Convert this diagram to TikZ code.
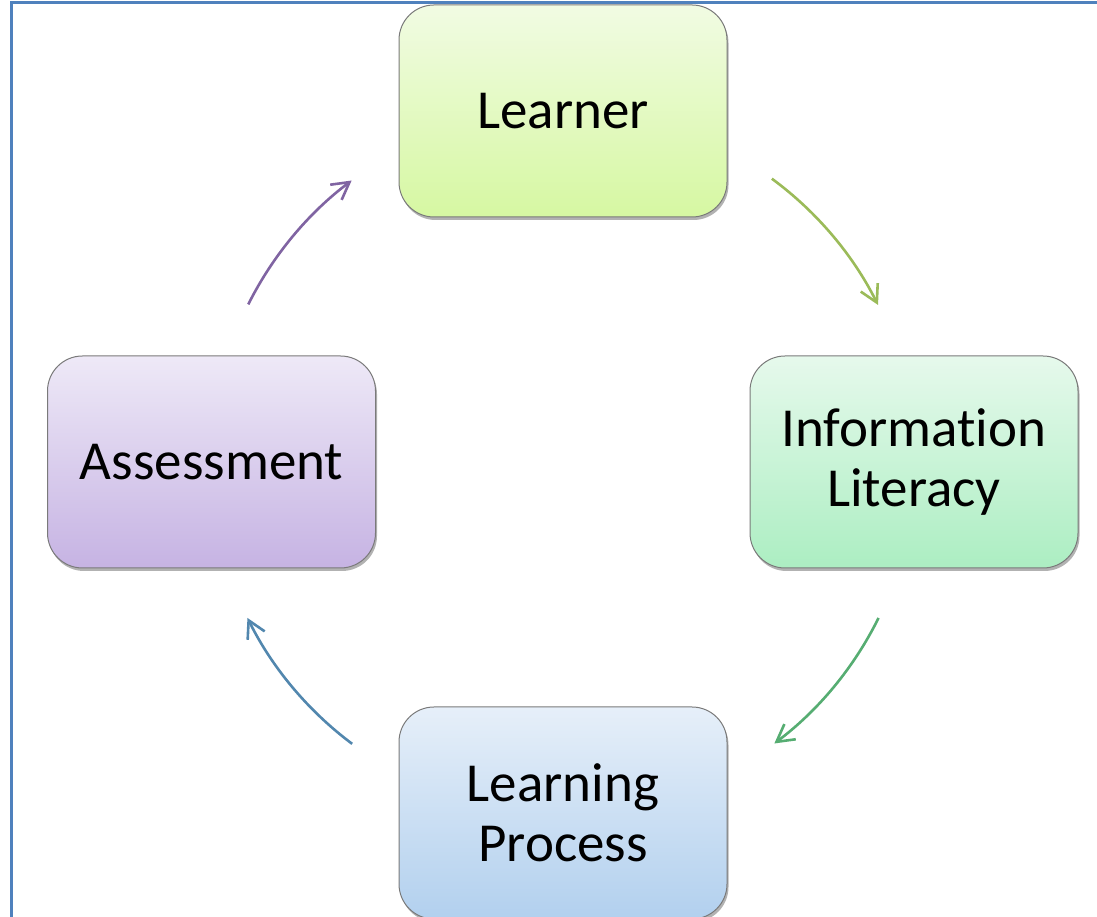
\documentclass[tikz,border=0pt]{standalone}
\usepackage{fontspec}
\setmainfont{Carlito}[Ligatures=NoCommon]
\usetikzlibrary{arrows.meta,shadows,calc}
\definecolor{framecol}{HTML}{4F81BD}
\definecolor{boxgray}{HTML}{7A7A7A}
\definecolor{lrnTop}{HTML}{F1FBE3}
\definecolor{lrnBot}{HTML}{D6F8A2}
\definecolor{infTop}{HTML}{E6F9EC}
\definecolor{infBot}{HTML}{ACEEC2}
\definecolor{assTop}{HTML}{EEE9F7}
\definecolor{assBot}{HTML}{C6B3E3}
\definecolor{proTop}{HTML}{E6EFF9}
\definecolor{proBot}{HTML}{B2D0EE}
\definecolor{arrPurple}{HTML}{8064A2}
\definecolor{arrLime}{HTML}{9BBB59}
\definecolor{arrGreen}{HTML}{56AD72}
\definecolor{arrBlue}{HTML}{5287AE}
\begin{document}
\begin{tikzpicture}[x=1pt,y=1pt,
  box/.style={rectangle, rounded corners=35pt, minimum width=328pt, minimum height=212pt,
    inner sep=0pt, draw=boxgray, line width=1pt, align=center,
    font=\fontsize{55pt}{60pt}\selectfont,
    drop shadow={shadow xshift=1.5pt, shadow yshift=-3pt, opacity=0.3, fill=black}},
  cyc/.style={line width=2.6pt, -{Straight Barb[length=17pt,width=19pt,line width=2.6pt]}},
  frameline/.style={draw=framecol, line width=3pt}
]
\useasboundingbox (0,0) rectangle (1097,917);
\clip (0,0) rectangle (1097,917);
\path[frameline] (11,-20) -- (11,914) -- (1120,914);

\node[box, top color=lrnTop, bottom color=lrnBot] (learner) at (563,806) {Learner};
\node[box, top color=infTop, bottom color=infBot] (info) at (914,455) {Information\\Literacy};
\node[box, top color=assTop, bottom color=assBot] (assess) at (211.5,455) {Assessment};
\node[box, top color=proTop, bottom color=proBot] (proc) at (563,104) {Learning\\Process};

\coordinate (c) at (563,455);
\coordinate (a1) at ($(c)+(153.4:352)$);
\coordinate (b1) at ($(c)+(53.6:352)$);
\coordinate (c1) at ($(c)+(-26.3:352)$);
\coordinate (d1) at ($(c)+(-126.8:352)$);

\draw[cyc, arrPurple] (a1) arc[start angle=153.4, end angle=126.9, radius=352];
\draw[cyc, arrLime] (b1) arc[start angle=53.6, end angle=26.5, radius=352];
\draw[cyc, arrGreen] (c1) arc[start angle=-26.3, end angle=-53.1, radius=352];
\draw[cyc, arrBlue] (d1) arc[start angle=-126.8, end angle=-153.7, radius=352];
\end{tikzpicture}
\end{document}
